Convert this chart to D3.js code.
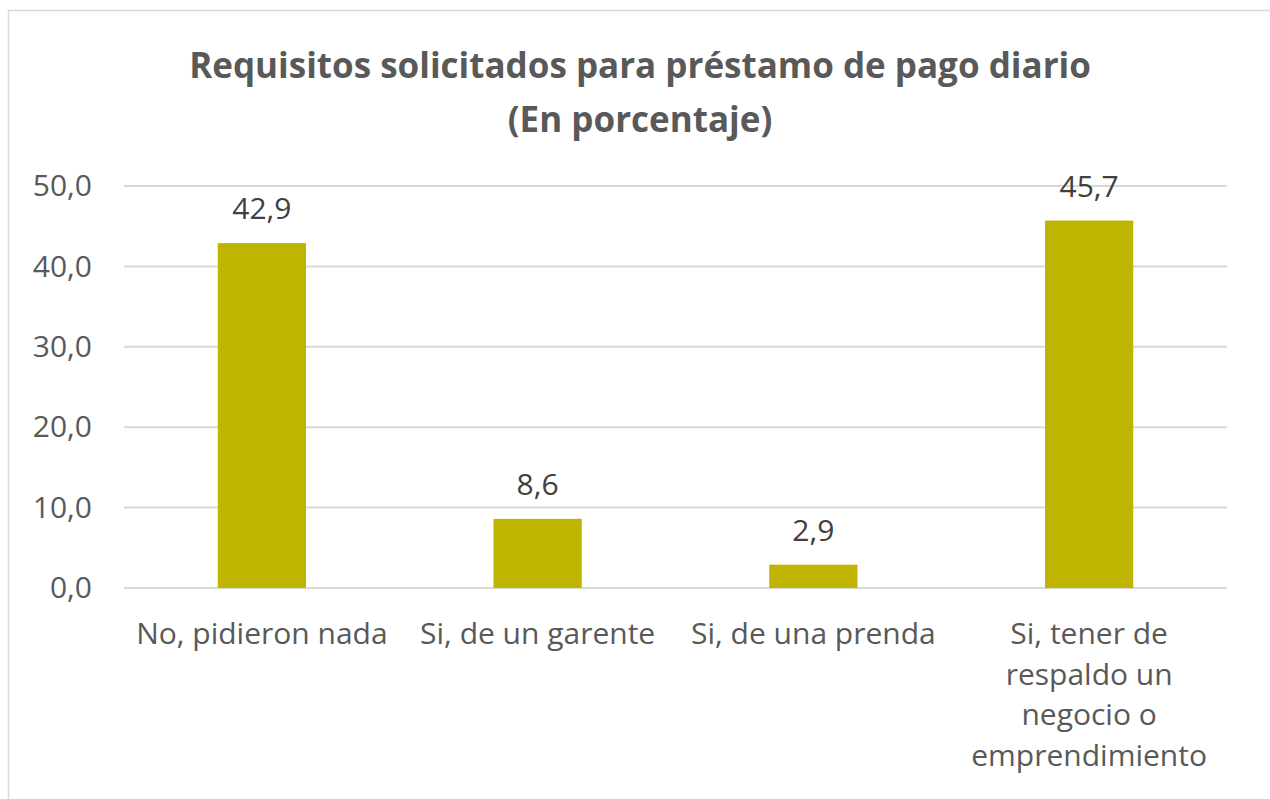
<!DOCTYPE html>
<html>
<head>
<meta charset="utf-8">
<script src="https://cdn.jsdelivr.net/npm/d3@7"></script>
<style>
body{margin:0;background:#fff;}
svg{display:block;font-family:"Open Sans",sans-serif;}
</style>
</head>
<body>
<div id="chart"></div>
<script>
var categories = ["No, pidieron nada","Si, de un garente","Si, de una prenda","Si, tener de respaldo un negocio o emprendimiento"]
var catLines = [["No, pidieron nada"],["Si, de un garente"],["Si, de una prenda"],["Si, tener de","respaldo un","negocio o","emprendimiento"]]
var values = [42.9,8.6,2.9,45.7]
var yTicks = [0,10,20,30,40,50]
var titleLines = ["Requisitos solicitados para préstamo de pago diario","(En porcentaje)"]

var width = 1270
var height = 799
var plotLeft = 124, plotRight = 1227, plotTop = 186, plotBottom = 588

var svg = d3.select("#chart").append("svg").attr("width",width).attr("height",height)

// chart border
svg.append("rect").attr("x",8.5).attr("y",10.5).attr("width",width+20).attr("height",height+20)
.attr("fill","#fff").attr("stroke","#d9d9d9").attr("stroke-width",1.5)

svg.selectAll(".title")
.data(titleLines)
.enter()
.append("text")
.attr("x",640)
.attr("y",function(d,i){return 78+i*54})
.attr("text-anchor","middle")
.attr("font-weight","bold")
.attr("font-size",35)
.attr("fill","#595959")
.text(function(d){return d})

var xScale = d3.scaleBand().domain(categories).range([plotLeft,plotRight]).paddingInner(0.68).paddingOuter(0.34)
var yScale = d3.scaleLinear().domain([0,50]).range([plotBottom,plotTop])

svg.selectAll(".grid")
.data(yTicks)
.enter()
.append("line")
.attr("x1",plotLeft).attr("x2",plotRight)
.attr("y1",function(d){return yScale(d)}).attr("y2",function(d){return yScale(d)})
.attr("stroke","#d9d9d9").attr("stroke-width",2)

var yAxis = d3.axisLeft(yScale).tickValues(yTicks).tickSize(0).tickPadding(32)
.tickFormat(function(d){return d3.format(".1f")(d).replace(".",",")})
var yG = svg.append("g").attr("transform","translate("+plotLeft+",0)").call(yAxis)
yG.select(".domain").remove()
yG.selectAll("text").attr("font-size",30).attr("fill","#595959").attr("font-family","Open Sans")

svg.selectAll(".bar")
.data(values)
.enter()
.append("rect")
.attr("x",function(d,i){return xScale(categories[i])})
.attr("y",function(d){return yScale(d)})
.attr("width",xScale.bandwidth())
.attr("height",function(d){return plotBottom-yScale(d)})
.attr("fill","#bfb500")

svg.selectAll(".val")
.data(values)
.enter()
.append("text")
.attr("x",function(d,i){return xScale(categories[i])+xScale.bandwidth()/2})
.attr("y",function(d){return yScale(d)-24})
.attr("text-anchor","middle")
.attr("font-size",30)
.attr("fill","#404040")
.text(function(d){return d3.format(".1f")(d).replace(".",",")})

var cat = svg.selectAll(".cat")
.data(catLines)
.enter()
.append("text")
.attr("text-anchor","middle")
.attr("font-size",30)
.attr("fill","#595959")
.attr("transform",function(d,i){return "translate("+(xScale(categories[i])+xScale.bandwidth()/2)+",0)"})
cat.selectAll("tspan")
.data(function(d){return d})
.enter()
.append("tspan")
.attr("x",0)
.attr("y",function(d,i){return 644+i*40.5})
.text(function(d){return d})
</script>
</body>
</html>
